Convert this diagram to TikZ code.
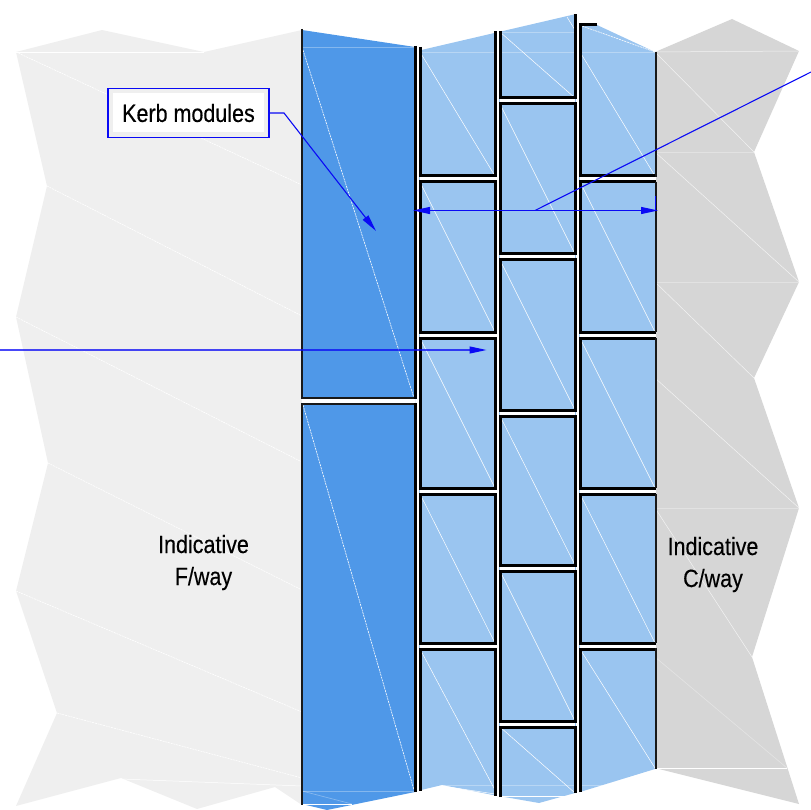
\documentclass[tikz,border=0pt]{standalone}
\usepackage{fontspec}
\newfontfamily\lblfont[FakeStretch=0.86,FakeBold=0.25]{Liberation Sans}
\definecolor{fwaygrey}{HTML}{EFEFEF}
\definecolor{cwaygrey}{HTML}{D6D6D6}
\definecolor{kerbdark}{HTML}{4F98E8}
\definecolor{kerblight}{HTML}{9AC5F0}
\definecolor{leader}{HTML}{0A0AF5}
\usetikzlibrary{arrows.meta}
\tikzset{
  seam/.style={draw=white,line width=0.5pt},
  seamsoft/.style={draw=white,draw opacity=0.7,line width=0.5pt},
  seamdash/.style={draw=white,line width=0.6pt,dash pattern=on 2pt off 0.8pt},
  faint/.style={draw=white,draw opacity=0.3,line width=0.7pt},
  kerbline/.style={draw=black,line width=3pt,line cap=butt,line join=miter},
  edgeline/.style={draw=black!90,line width=2.3pt,line cap=butt},
  gap/.style={fill=white,draw=none},
  lead/.style={draw=leader,line width=1.1pt},
  leadsoft/.style={draw=leader,draw opacity=0.75,line width=1.1pt},
  headtip/.tip={Triangle[length=17pt,width=7pt,fill=leader]},
  lbl/.style={font=\lblfont\fontsize{25}{32}\selectfont,align=center,text=black,inner sep=0pt}
}
\begin{document}
\begin{tikzpicture}[x=1pt,y=-1pt]
\useasboundingbox (0,0) rectangle (811,810);
% carriageway and footway fills
\fill[fwaygrey] (16,52)--(102,30)--(204,52)--(302,30)--(302,805)--(275,787)--(197,809)--(121,778)--(16,806)--(57,713)--(16,591)--(48,463)--(16,317)--(47,186)--cycle;
\fill[cwaygrey] (655,52)--(732,19)--(799,51)--(754,152)--(799,282)--(754,378)--(799,508)--(752,657)--(799,804)--(655,768)--cycle;
\fill[kerbdark] (302,30)--(415,47)--(415,792)--(327,810)--(302,804)--cycle;
\fill[kerblight] (417,51)--(576,14)--(578,25)--(597,25)--(655,52)--(655,769)--(580,792)--(575,793)--(539,803)--(493,795)--(442,785)--(417,791)--cycle;
% seams, footway
\draw[seamdash] (16,52)--(302,185);
\draw[seamdash] (47,186)--(302,316);
\draw[seamdash] (16,317)--(302,462);
\draw[seamdash] (48,463)--(302,590);
\draw[seamdash] (16,591)--(302,712);
\draw[seamdash] (57,713)--(302,778);
\draw[seam] (16,52)--(204,52);
\draw[seam] (121,779)--(302,786);
% seams, carriageway
\draw[seamsoft] (655,52)--(754,152);
\draw[seamsoft] (655,152)--(799,282);
\draw[seamsoft] (655,282)--(754,378);
\draw[seamsoft] (655,378)--(799,508);
\draw[seamsoft] (655,508)--(752,657);
\draw[faint] (655,657)--(787,768);
\draw[seamsoft] (655,52)--(799,51);
\draw[faint] (655,152)--(754,152);
\draw[faint] (655,282)--(799,282);
\draw[faint] (655,508)--(799,508);
\draw[seam] (655,768)--(787,768);
% seams, dark kerb
\draw[faint] (302,47)--(415,47);
\draw[faint] (302,791)--(415,791);
\draw[seamdash] (303,50)--(414,398);
\draw[seamdash] (303,405)--(414,790);
\draw[seam] (302,804)--(352,804);
\draw[faint] (302,791)--(352,804);
% seams, light kerbs
\foreach \xa/\xb/\ya/\yb in {420/495/52/176,420/495/182/332,420/495/338/488,420/495/494/643,420/495/649/790,
  500/575/104/254,500/575/260/410,500/575/416/565,500/575/571/721,
  580/655/52/176,580/655/182/332,580/655/338/488,580/655/494/643,580/655/649/768}
  \draw[seam] (\xa,\ya)--(\xb,\yb);
\draw[seam] (500,32)--(575,98);
\draw[seam] (500,727)--(575,793);
\draw[seam] (567,17)--(575,30);
\draw[seamdash] (582,26)--(655,52);
\draw[faint] (420,52)--(655,52);
\draw[faint] (500,32)--(575,32);
\draw[faint] (442,785)--(640,785);
\draw[seam] (500,796)--(575,796);
\draw[seam] (442,786)--(495,794);
% white joints between modules
\fill[gap] (415.5,40) rectangle (419,800);
\fill[gap] (496,25) rectangle (499,800);
\fill[gap] (576,10) rectangle (579,800);
\fill[gap] (302,398) rectangle (415,404);
\foreach \ya in {176,332,488,643} {
  \fill[gap] (420,\ya) rectangle (495.7,\ya+6);
  \fill[gap] (580,\ya) rectangle (655.7,\ya+6);
}
\foreach \ya in {98,254,410,565,721}
  \fill[gap] (500,\ya) rectangle (575,\ya+6);
% module outlines
\draw[edgeline] (302,29)--(302,398)--(415,398);
\draw[edgeline] (415,404)--(302,404)--(302,805);
\draw[kerbline] (415,46)--(415,399);
\draw[kerbline] (415,403)--(415,792);
% left light column
\draw[kerbline] (420,47)--(420,176)--(495.7,176)--(495.7,31);
\foreach \ya/\yb in {182/332,338/488,494/643}
  \draw[kerbline] (420,\ya) rectangle (495.7,\yb);
\draw[kerbline] (420,791)--(420,649)--(495.7,649)--(495.7,796);
% centre column
\draw[kerbline] (500,31)--(500,98)--(575,98)--(575,14);
\foreach \ya/\yb in {104/254,260/410,416/565,571/721}
  \draw[kerbline] (500,\ya) rectangle (575,\yb);
\draw[kerbline] (500,797)--(500,727)--(575,727)--(575,793);
% right light column
\draw[kerbline] (597,25)--(580,25)--(580,176)--(655.7,176);
\draw[edgeline] (655.7,177)--(655.7,52);
\foreach \ya/\yb in {182/332,338/488,494/643} {
  \draw[kerbline] (655.7,\ya)--(580,\ya)--(580,\yb)--(655.7,\yb);
  \draw[edgeline] (655.7,\ya)--(655.7,\yb);
}
\draw[kerbline] (580,792)--(580,649)--(655.7,649);
\draw[edgeline] (655.7,648)--(655.7,769);
% labels
\node[lbl,anchor=base] (fway) at (203.5,585) {Indicative\\F/way};
\node[lbl,anchor=base] (cway) at (713,587) {Indicative\\C/way};
\node[draw=leader,line width=1.1pt,fill=fwaygrey,minimum width=161pt,minimum height=49pt,inner sep=0pt] (kerbbox) at (188.5,113) {};
\node[fill=white,minimum width=151pt,minimum height=39pt,inner sep=0pt,font=\lblfont\fontsize{25}{30}\selectfont] (kerbtext) at (kerbbox.center) {Kerb modules};
% leaders
\coordinate (elbow) at (284,113);
\coordinate (kerbtip) at (376,231);
\coordinate (dimL) at (413,210.5);
\coordinate (dimR) at (658,210.5);
\coordinate (dimM) at (535,210.5);
\coordinate (farR) at (811,72);
\coordinate (farL) at (0,350);
\coordinate (railtip) at (486.5,350);
\draw[lead,-headtip] (kerbbox.east)--(elbow)--(kerbtip);
\draw[lead,headtip-headtip] (dimL)--(dimR);
\draw[lead] (dimM)--(farR);
\draw[lead] (655.7,196)--(655.7,211);
\draw[leadsoft] (farL)--(470,350);
\draw[lead,-headtip] (470,350)--(railtip);
\end{tikzpicture}
\end{document}
